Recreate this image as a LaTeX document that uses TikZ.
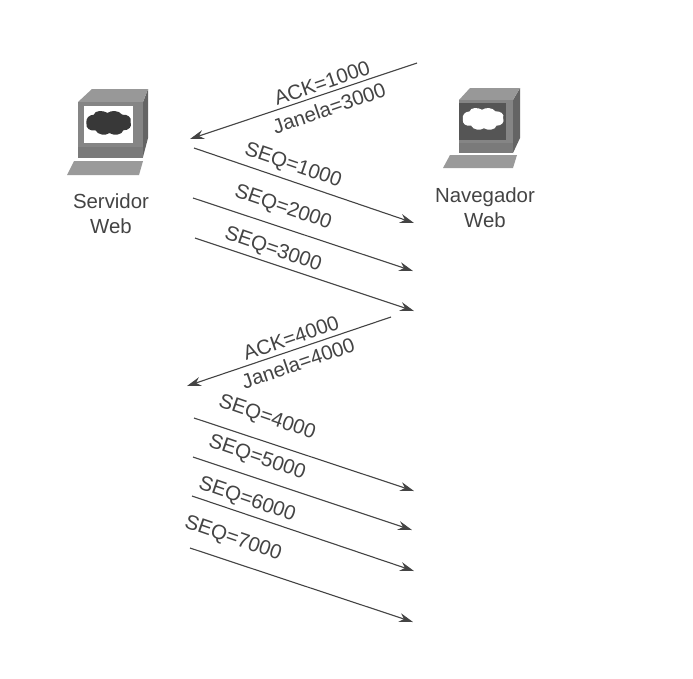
\documentclass[tikz,border=0pt]{standalone}
\usepackage{fontspec}
\setmainfont{Liberation Sans}
\usetikzlibrary{arrows.meta}
\definecolor{ink}{HTML}{444444}
\definecolor{pctop}{HTML}{989898}
\definecolor{pcfront}{HTML}{858585}
\definecolor{pcside}{HTML}{646464}
\definecolor{pcband}{HTML}{7A7A7A}
\definecolor{pckey}{HTML}{9A9A9A}
\definecolor{pcdark}{HTML}{383838}
\definecolor{pcscreen}{HTML}{555555}
\tikzset{
  flow/.style={draw=ink,line width=1.1pt,-{Stealth[length=14pt,width=9pt]}},
  lab/.style={text=ink,font=\fontsize{20.5}{22}\selectfont,inner sep=0pt},
  hostlab/.style={text=ink,font=\fontsize{20.4}{25}\selectfont,align=center,inner sep=0pt},
}
\newcommand{\cloudshape}[4]{% cx, cy, scale, fill
  \begin{scope}[shift={(#1,#2)},scale=#3]
  \fill[#4] (-24,0) .. controls (-25,6) and (-20,9) .. (-14,8)
    .. controls (-12,13) and (-3,14) .. (1,11)
    .. controls (6,14) and (15,13) .. (16,8)
    .. controls (22,8) and (26,4) .. (24,-1)
    .. controls (26,-6) and (20,-10) .. (15,-9)
    .. controls (11,-14) and (3,-14) .. (-1,-11)
    .. controls (-6,-14) and (-15,-14) .. (-16,-9)
    .. controls (-21,-9) and (-25,-5) .. (-24,0) -- cycle;
  \end{scope}
}
\begin{document}
\begin{tikzpicture}[x=1pt,y=-1pt]
\useasboundingbox (0,0) rectangle (693,678);
\fill[white] (0,0) rectangle (693,678);
% server icon
\fill[pcside] (143,102) -- (148,89) -- (148,138) -- (143,157) -- cycle;
\fill[pctop] (78,102) -- (92,89) -- (148,89) -- (143,102) -- cycle;
\fill[pcfront] (78,102) rectangle (143,147);
\fill[pcband] (78,147) rectangle (143,158);
\fill[white] (84,106) rectangle (133,143);
\cloudshape{108.5}{123}{0.92}{pcdark}
\fill[pckey] (74,161) -- (143,161) -- (139,175) -- (67,175) -- cycle;
% browser icon
\fill[pcside] (513,100) -- (520,88) -- (520,138) -- (513,153) -- cycle;
\fill[pctop] (459,100) -- (470,88) -- (520,88) -- (513,100) -- cycle;
\fill[pcfront] (459,100) rectangle (513,153);
\fill[pcscreen] (459,103) rectangle (506,140);
\fill[pcband] (459,143) rectangle (513,153);
\cloudshape{483}{119}{0.84}{white}
\fill[pckey] (450,155) -- (517,155) -- (513,168) -- (443,168) -- cycle;
% host labels
\node[hostlab] (srv) at (111,214) {Servidor\\Web};
\node[hostlab] (nav) at (485,208) {Navegador\\Web};
% connector ends
\coordinate (a1s) at (417,63);  \coordinate (a1e) at (190,139);
\coordinate (s1s) at (194,148); \coordinate (s1e) at (414,223);
\coordinate (s2s) at (193,198); \coordinate (s2e) at (413,271);
\coordinate (s3s) at (195,238); \coordinate (s3e) at (414,311);
\coordinate (a2s) at (391,317); \coordinate (a2e) at (187,386);
\coordinate (s4s) at (194,418); \coordinate (s4e) at (414,491);
\coordinate (s5s) at (193,457); \coordinate (s5e) at (412,530);
\coordinate (s6s) at (192,496); \coordinate (s6e) at (414,571);
\coordinate (s7s) at (190,548); \coordinate (s7e) at (413,622);
\foreach \p/\q in {a1s/a1e,s1s/s1e,s2s/s2e,s3s/s3e,a2s/a2e,s4s/s4e,s5s/s5e,s6s/s6e,s7s/s7e}
  \draw[flow] (\p) -- (\q);
% labels
\node[lab,rotate=19] (l1) at (322,83) {ACK=1000};
\node[lab,rotate=19] (l2) at (329,108) {Janela=3000};
\node[lab,rotate=-19] (l3) at (293,166) {SEQ=1000};
\node[lab,rotate=-19] (l4) at (283,208) {SEQ=2000};
\node[lab,rotate=-19] (l5) at (273,250) {SEQ=3000};
\node[lab,rotate=19] (l6) at (291,338) {ACK=4000};
\node[lab,rotate=19] (l7) at (298,363) {Janela=4000};
\node[lab,rotate=-19] (l8) at (267,418) {SEQ=4000};
\node[lab,rotate=-19] (l9) at (257,458) {SEQ=5000};
\node[lab,rotate=-19] (l10) at (247,500) {SEQ=6000};
\node[lab,rotate=-19] (l11) at (233,539) {SEQ=7000};
\end{tikzpicture}
\end{document}
